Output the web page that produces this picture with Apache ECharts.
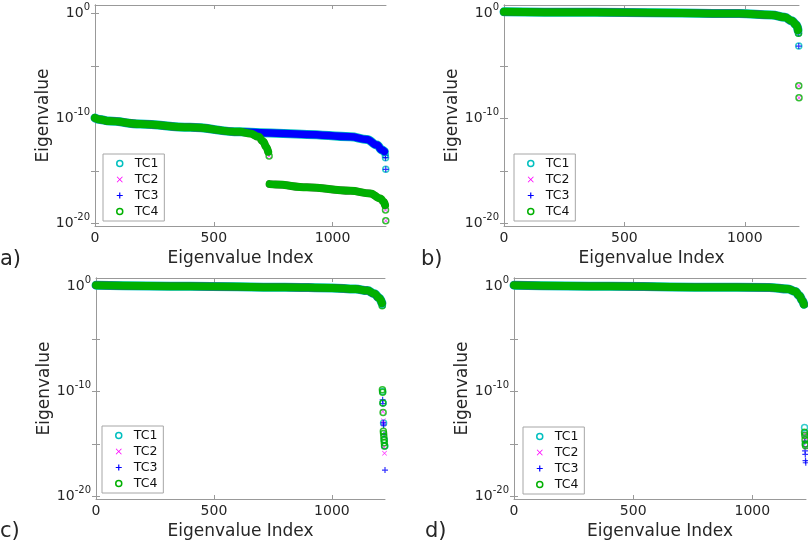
<!DOCTYPE html>
<html>
<head>
<meta charset="utf-8">
<script src="https://cdn.jsdelivr.net/npm/echarts@6/dist/echarts.min.js"></script>
<style>
  html, body { margin: 0; padding: 0; background: #fff; }
  #chart { width: 808px; height: 545px; }
</style>
</head>
<body>
<div id="chart"></div>
<script>
// values: [eigenvalue index, eigenvalue]
const xMax = 1225
const seriesNames = ['TC1', 'TC2', 'TC3', 'TC4']
const panelLabels = ['a)', 'b)', 'c)', 'd)']
const xTicks = [0, 500, 1000]
const yTicks = [1e-20, 1e-15, 1e-10, 1e-5, 1]
const yTickLabels = [1e-20, 1e-10, 1]

// a) TC1/TC3 keep one smooth branch, TC2/TC4 split at ~733
const aUpper = [[0, 1.1e-10], [20, 7.9e-11], [60, 5.5e-11], [190, 2.9e-11], [400, 1.4e-11], [610, 5.2e-12],
  [695, 4.3e-12], [892, 3.0e-12], [1075, 1.8e-12], [1145, 1.0e-12], [1187, 2.9e-13], [1208, 9.5e-14], [1218, 7e-14]]
const aUpperTail = [[1222, 3.2e-14], [1223, 1.8e-14], [1224, 1.4e-15]]
const aGreenUpper = [[0, 1.1e-10], [20, 7.9e-11], [60, 5.5e-11], [190, 2.9e-11], [400, 1.4e-11], [610, 5.2e-12],
  [653, 3.7e-12], [688, 1.8e-12], [709, 6.0e-13], [720, 2.0e-13], [729, 6.6e-14]]
const aGreenLower = [[735, 5.5e-17], [760, 5.0e-17], [892, 2.7e-17], [1075, 1.26e-17], [1159, 7.2e-18],
  [1201, 2.4e-18], [1215, 1.15e-18], [1221, 5.5e-19]]
const aGreenTail = [[733, 2.6e-14], [1223, 1.9e-19], [1224, 1.8e-20]]

// b)
const bBand = [[0, 1.4], [250, 1.3], [500, 1.25], [975, 1.0], [1112, 0.7], [1167, 0.42], [1194, 0.2], [1215, 0.078], [1221, 0.025]]
const bTail13 = [[1223, 0.0126], [1224, 7.8e-4]]
const bTail24 = [[1223, 0.0126], [1224, 1.26e-7], [1225, 9.1e-9]]

// c)
const cBand = [[0, 1.3], [400, 1.05], [800, 0.83], [1000, 0.71], [1100, 0.56], [1150, 0.4], [1180, 0.2], [1200, 0.079], [1212, 0.025]]
const cTail1 = [[1214, 0.016], [1215, 1e-10], [1217, 8e-12], [1219, 1e-13], [1222, 2.5e-15], [1224, 6.3e-16]]
const cTail2 = [[1214, 0.016], [1216, 1.2e-12], [1218, 1.6e-13], [1219, 8e-14], [1221, 5e-16], [1223, 1.26e-16]]
const cTail3 = [[1214, 0.02], [1215, 1.6e-11], [1216, 7e-12], [1218, 1e-13], [1219, 6.3e-14], [1221, 8e-15], [1225, 3.2e-18]]
const cTail4 = [[1213, 0.0145], [1214, 1.45e-10], [1215, 8.5e-11], [1216, 7.8e-12], [1217, 1e-12], [1218, 1.6e-14],
  [1219, 1e-14], [1220, 5e-15], [1221, 2.5e-15], [1222, 1.26e-15], [1223, 6.3e-16]]

// d)
const dBand = [[0, 1.3], [400, 1.05], [800, 0.85], [1070, 0.78], [1150, 0.55], [1180, 0.33], [1197, 0.13], [1210, 0.044], [1216, 0.02]]
const dTail1 = [[1218, 0.018], [1219, 3.7e-14], [1221, 1e-14], [1223, 1e-15]]
const dTail2 = [[1218, 0.018], [1220, 8.5e-15], [1222, 3.2e-15], [1224, 5e-16]]
const dTail3 = [[1219, 0.018], [1220, 1.6e-15], [1221, 2.2e-16], [1222, 1e-16], [1223, 2.5e-17], [1224, 1.6e-17]]
const dTail4 = [[1218, 0.018], [1219, 1.26e-14], [1220, 6.3e-15], [1221, 2.5e-15], [1222, 1e-15], [1223, 6.8e-16]]

// per panel, per TC: band segments and the separate tail points
const panelData = [
  { bands: [[aUpper], [aGreenUpper, aGreenLower], [aUpper], [aGreenUpper, aGreenLower]], tails: [aUpperTail, aGreenTail, aUpperTail, aGreenTail] },
  { bands: [[bBand], [bBand], [bBand], [bBand]], tails: [bTail13, bTail24, bTail13, bTail24] },
  { bands: [[cBand], [cBand], [cBand], [cBand]], tails: [cTail1, cTail2, cTail3, cTail4] },
  { bands: [[dBand], [dBand], [dBand], [dBand]], tails: [dTail1, dTail2, dTail3, dTail4] }
]

// layout
const grids = [
  { left: 95, top: 5, width: 291, height: 221 },
  { left: 504, top: 5, width: 295, height: 221 },
  { left: 96, top: 278, width: 289, height: 221 },
  { left: 514, top: 278, width: 292, height: 221 }
]
const legendPos = [[103, 154], [514, 154], [102, 426], [523, 427]]
const labelPos = [[0, 249], [421, 249], [0, 521], [425, 521]]

const font = 'DejaVu Sans'
const textColor = '#262626'
const boxColor = '#999'
const colors = ['#00bfbf', '#ff00ff', '#0000ff', '#00b000']
const plusPath = 'path://M4,0H6V4H10V6H6V10H4V6H0V4H4Z'
const crossPath = 'path://M1,0L5,4L9,0L10,1L6,5L10,9L9,10L5,6L1,10L0,9L4,5L0,1Z'
const markers = [
  { symbol: 'circle', size: 6, style: { color: 'rgba(0,0,0,0)', borderColor: colors[0], borderWidth: 1.5 } },
  { symbol: crossPath, size: 5, style: { color: colors[1] } },
  { symbol: plusPath, size: 6, style: { color: colors[2] } },
  { symbol: 'circle', size: 6, style: { color: 'rgba(0,0,0,0)', borderColor: colors[3], borderWidth: 1.5 } }
]
const bandWidths = [9, 7.5, 7.5, 8]

const xAxes = []
const yAxes = []
const series = []

grids.forEach((g, i) => {
  const tick = { show: true, inside: true, length: 4, customValues: xTicks, lineStyle: { color: boxColor } }
  const line = { show: true, lineStyle: { color: boxColor, width: 1 } }
  xAxes.push({
    gridIndex: i, type: 'value', min: 0, max: xMax, position: 'bottom',
    axisLine: line, axisTick: tick, splitLine: { show: false },
    axisLabel: { customValues: xTicks, color: textColor, fontSize: 14, fontFamily: font, margin: 5, formatter: (v) => String(v) },
    name: 'Eigenvalue Index', nameLocation: 'middle', nameGap: 24,
    nameTextStyle: { color: textColor, fontSize: 17, fontFamily: font }
  })
  xAxes.push({
    gridIndex: i, type: 'value', min: 0, max: xMax, position: 'top',
    axisLine: line, axisTick: tick, axisLabel: { show: false }, splitLine: { show: false }
  })
  const ytick = { show: true, inside: true, length: 4, customValues: yTicks, lineStyle: { color: boxColor } }
  yAxes.push({
    gridIndex: i, type: 'log', logBase: 10, min: Math.pow(10, -20.25), max: Math.pow(10, 0.8), position: 'left',
    axisLine: line, axisTick: ytick, splitLine: { show: false }, minorTick: { show: false },
    axisLabel: {
      customValues: yTickLabels, margin: 5, fontFamily: font,
      formatter: (v) => '{b|10}{s|' + Math.round(Math.log10(v)) + '}',
      rich: {
        b: { fontSize: 14, lineHeight: 22, color: textColor, fontFamily: font },
        s: { fontSize: 10, lineHeight: 10, verticalAlign: 'top', color: textColor, fontFamily: font }
      }
    },
    name: 'Eigenvalue', nameLocation: 'middle', nameGap: 42,
    nameTextStyle: { color: textColor, fontSize: 17, fontFamily: font }
  })
  yAxes.push({
    gridIndex: i, type: 'log', logBase: 10, min: Math.pow(10, -20.25), max: Math.pow(10, 0.8), position: 'right',
    axisLine: line, axisTick: ytick, axisLabel: { show: false }, splitLine: { show: false }
  })

  seriesNames.forEach((name, k) => {
    panelData[i].bands[k].forEach((seg) => {
      series.push({
        name, type: 'line', xAxisIndex: 2 * i, yAxisIndex: 2 * i,
        data: seg, showSymbol: false, symbol: 'none', clip: false,
        smooth: 0.4, smoothMonotone: 'x',
        lineStyle: { color: colors[k], width: bandWidths[k], cap: 'round', join: 'round' },
        itemStyle: { color: colors[k] },
        emphasis: { disabled: true }, silent: true
      })
    })
    series.push({
      name, type: 'scatter', xAxisIndex: 2 * i, yAxisIndex: 2 * i,
      data: panelData[i].tails[k], symbol: markers[k].symbol, symbolSize: markers[k].size,
      itemStyle: markers[k].style, clip: false, emphasis: { disabled: true }, silent: true
    })
  })
})

const legends = legendPos.map(([left, top]) => ({
  left, top, orient: 'vertical', selectedMode: false,
  backgroundColor: '#fff', borderColor: '#a6a6a6', borderWidth: 1, borderRadius: 0,
  padding: [3, 6, 3, 13], itemWidth: 8, itemHeight: 6, itemGap: 3,
  textStyle: { color: '#111', fontSize: 12.5, lineHeight: 12, fontFamily: font, padding: [0, 0, 0, 6] },
  data: seriesNames.map((name, k) => ({ name, icon: markers[k].symbol, itemStyle: markers[k].style }))
}))

const titles = labelPos.map(([left, top], i) => ({
  text: panelLabels[i], left, top, padding: 0,
  textStyle: { color: textColor, fontSize: 21, fontWeight: 'normal', fontFamily: font }
}))

const chart = echarts.init(document.getElementById('chart'), null, { renderer: 'canvas' })
chart.setOption({
  animation: false,
  backgroundColor: '#fff',
  title: titles,
  legend: legends,
  grid: grids.map((g) => Object.assign({ containLabel: false, outerBoundsMode: 'none' }, g)),
  xAxis: xAxes,
  yAxis: yAxes,
  series
})
</script>
</body>
</html>
